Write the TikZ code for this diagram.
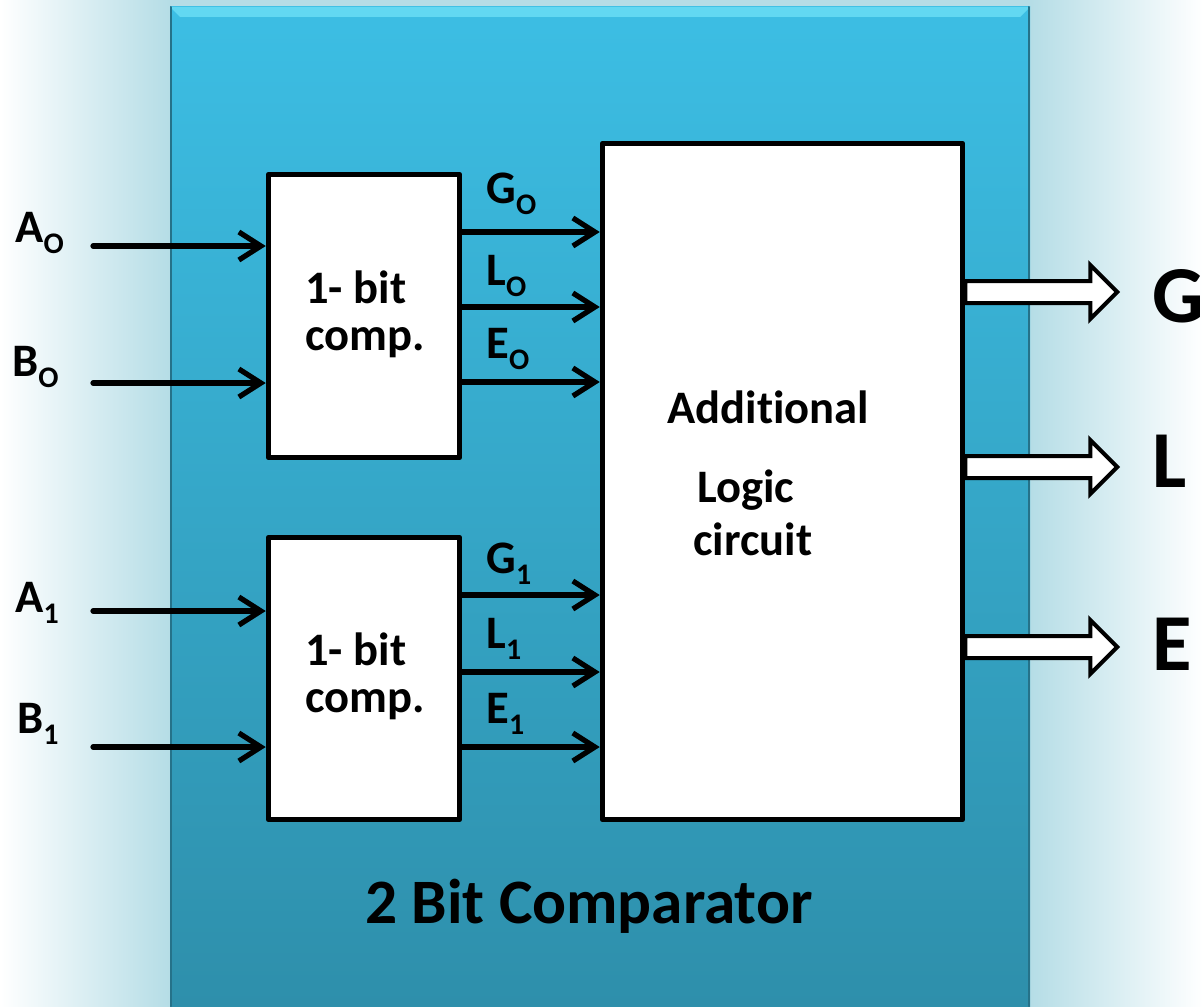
\documentclass[tikz,border=0pt]{standalone}
\usepackage{fontspec}
\setmainfont{Carlito}[Ligatures={NoCommon}]
\usetikzlibrary{arrows.meta,calc}

\definecolor{panel}{HTML}{3CBEE4}
\definecolor{paneldark}{HTML}{2E8FAB}
\definecolor{glow}{HTML}{B5DDE6}
\definecolor{bevel}{HTML}{62D8F2}
\newcommand{\lowsub}[1]{\raisebox{-6.5pt}{\fontsize{17}{17}\selectfont #1}}

\begin{document}
\begin{tikzpicture}[x=0.2mm, y=-0.2mm, line cap=round, line join=round,
  blk/.style={draw, line width=1.1mm, fill=white, inner sep=0pt},
  sig/.style={line width=1.05mm, -{Straight Barb[length=4.4mm,width=5.6mm]}},
  wide/.style={draw, line width=0.8mm, fill=white, line join=miter},
  lbl/.style={font=\fontsize{26.5}{30}\selectfont\bfseries, inner sep=0pt},
  big/.style={font=\fontsize{46}{50}\selectfont\bfseries, inner sep=0pt}]
  \useasboundingbox (0,0) rectangle (1203,1006);
  % Glow behind the panel.
  \shade[left color=white, right color=glow] (0,0) rectangle (170,1006);
  \shade[left color=glow, right color=white] (1030,0) rectangle (1203,1006);
  \fill[glow] (170,0) rectangle (1030,7);
  % Panel.
  \shade[top color=panel, bottom color=paneldark] (170,7) rectangle (1030,1006);
  \fill[bevel] (170,7) -- (1030,7) -- (1020,17) -- (180,17) -- cycle;
  \draw[paneldark!80!black, line width=0.4mm] (171,7) -- (171,1006) (1029,7) -- (1029,1006);

  % Blocks.
  \node[blk, minimum width=38.2mm, minimum height=56.6mm] (cmp0) at (364,316) {};
  \node[blk, minimum width=38.2mm, minimum height=56.4mm] (cmp1) at (364,678.5) {};
  \node[blk, minimum width=72mm, minimum height=135.2mm] (logic) at (782.5,481.5) {};
  \node[lbl, anchor=base west] (bit0) at (305,303) {1- bit};
  \node[lbl, anchor=base west] (comp0) at (305,350) {comp.};
  \node[lbl, anchor=base west] (bit1) at (305,665) {1- bit};
  \node[lbl, anchor=base west] (comp1) at (305,712) {comp.};
  \node[lbl, anchor=base west] (addl) at (667,423) {Addit\kern0pt ional};
  \node[lbl, anchor=base west] (lgc) at (697,502) {Logic};
  \node[lbl, anchor=base west] (circ) at (693,555) {circuit};

  % Inputs.
  \foreach \n/\t/\s/\k/\x/\b/\y in {a0/A/O/cmp0/15/242/246, b0/B/O/cmp0/12/376/383,
                                     a1/A/1/cmp1/15/612/611, b1/B/1/cmp1/17/733/747} {
    \node[lbl, anchor=base west] (l\n) at (\x,\b) {\t\lowsub{\s}};
    \coordinate (\n) at (93,\y);
    \draw[sig] (\n) -- (\n -| \k.west);
  }

  % Partial results.
  \foreach \n/\t/\s/\k/\b/\y in {g0/G/O/cmp0/203/232, l0/L/O/cmp0/285/307, e0/E/O/cmp0/358/382,
                                 g1/G/1/cmp1/573/595, l1/L/1/cmp1/648/672, e1/E/1/cmp1/723/747} {
    \coordinate (\n) at (\k.east |- 0,\y);
    \draw[sig] (\n) -- (\n -| logic.west);
    \node[lbl, anchor=base west] (t\n) at (486,\b) {\t\lowsub{\s}};
  }

  % Outputs.
  \foreach \n/\t/\y/\b in {gout/G/292/322, lout/L/467/487, eout/E/647/670} {
    \coordinate (\n) at (logic.east |- 0,\y);
    \filldraw[wide] (\n) ++(0,-11) -- ++(125,0) -- ++(0,-16) -- ++(27,27)
      -- ++(-27,27) -- ++(0,-16) -- ++(-125,0) -- cycle;
    \node[big, anchor=base west] (\n t) at (1152,\b) {\t};
  }

  \node[font=\fontsize{36}{40}\selectfont\bfseries, inner sep=0pt, anchor=base] (title)
    at (589,923) {2 Bit Comparator};
\end{tikzpicture}
\end{document}
